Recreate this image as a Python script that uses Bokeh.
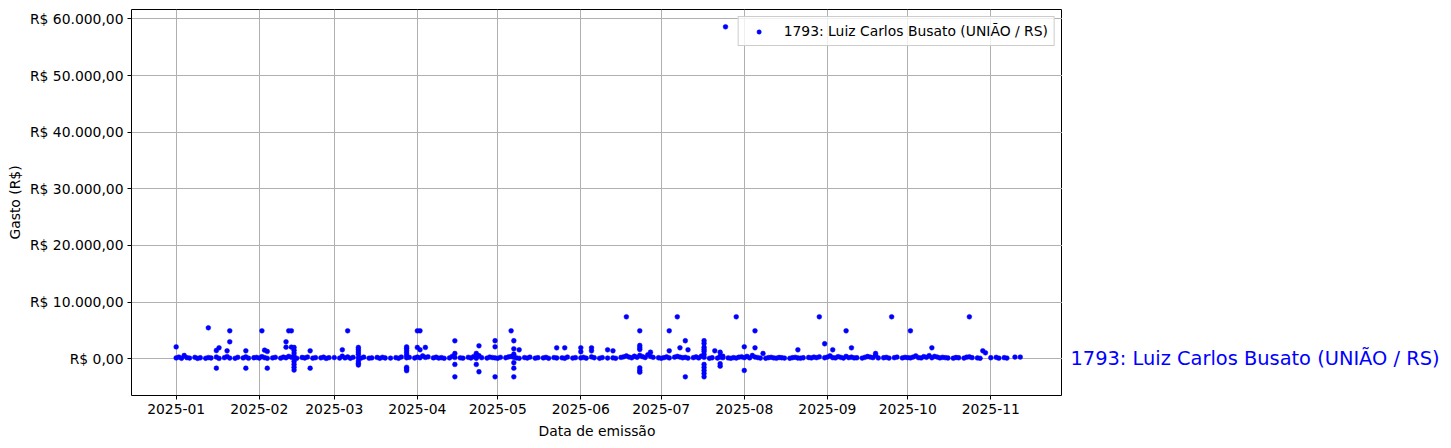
import pandas as pd
from bokeh.plotting import figure
from bokeh.layouts import row
from bokeh.models import ColumnDataSource, Range1d, FixedTicker
from bokeh.core.properties import value
from bokeh.embed import file_html
from bokeh.resources import INLINE

series_name = "1793: Luiz Carlos Busato (UNIÃO / RS)"
x_title = "Data de emissão"
y_title = "Gasto (R$)"

# dense band of small expenses (day of month, value) per month of 2025
jan_days = [1, 2, 3, 5, 6, 8, 9, 10, 12, 13, 14, 16, 17, 19, 20, 21, 23, 24, 26, 27, 28, 30, 31]
jan_vals = [150, 300, 80, 200, 120, 250, 60, 180, 90, 220, 140, 310, 70, 200, 400, 130, 90, 260, 150, 330, 100, 180, 240]
feb_days = [1, 2, 3, 4, 6, 7, 9, 10, 11, 12, 13, 14, 15, 17, 18, 19, 21, 22, 24, 25, 26, 27]
feb_vals = [120, 380, 200, 90, 150, 260, 110, 300, 180, 420, 260, 150, 90, 230, 140, 310, 110, 200, 170, 280, 60, 190]
mar_days = [1, 3, 4, 5, 6, 7, 8, 10, 11, 12, 14, 15, 17, 18, 19, 20, 22, 24, 25, 26, 28, 29, 31]
mar_vals = [210, 120, 460, 150, 320, 90, 250, 180, 130, 280, 100, 160, 230, 90, 260, 140, 120, 200, 90, 310, 180, 250, 140]
apr_days = [1, 2, 3, 4, 5, 7, 8, 9, 10, 11, 13, 14, 15, 17, 18, 20, 21, 22, 23, 24, 25, 27, 28, 29, 30]
apr_vals = [300, 180, 520, 240, 350, 160, 280, 120, 200, 90, 150, 420, 230, 170, 110, 260, 140, 380, 90, 540, 200, 120, 300, 220, 160]
may_days = [1, 2, 4, 5, 6, 7, 8, 9, 11, 12, 13, 15, 16, 18, 19, 20, 22, 23, 25, 26, 27, 29, 30]
may_vals = [90, 250, 180, 320, 400, 260, 150, 90, 220, 130, 280, 100, 190, 150, 260, 90, 210, 140, 170, 90, 300, 120, 200]
jun_days = [1, 2, 3, 5, 6, 8, 9, 11, 13, 14, 16, 17, 18, 19, 20, 21, 22, 23, 24, 25, 26, 27, 28, 30]
jun_vals = [150, 260, 100, 330, 180, 90, 210, 130, 160, 90, 240, 350, 520, 300, 180, 450, 260, 600, 380, 220, 700, 430, 250, 180]
jul_days = [1, 2, 3, 4, 6, 7, 8, 9, 10, 11, 13, 14, 15, 16, 17, 19, 20, 22, 23, 24, 26, 27, 28, 29, 30, 31]
jul_vals = [90, 200, 350, 150, 280, 420, 300, 180, 260, 120, 200, 340, 150, 480, 250, 90, 180, 120, 300, 200, 150, 90, 210, 130, 280, 350]
aug_days = [1, 2, 3, 4, 5, 6, 7, 9, 10, 11, 12, 13, 14, 15, 16, 18, 19, 20, 21, 22, 23, 25, 26, 27, 28, 29, 31]
aug_vals = [200, 420, 160, 580, 310, 220, 120, 90, 200, 260, 150, 100, 230, 180, 120, 90, 200, 260, 140, 100, 180, 230, 150, 300, 200, 350, 180]
sep_days = [1, 2, 3, 4, 5, 6, 7, 8, 9, 10, 11, 12, 14, 15, 16, 17, 18, 19, 20, 22, 23, 24, 26, 27, 29, 30]
sep_vals = [300, 520, 200, 150, 380, 250, 120, 420, 200, 300, 150, 180, 120, 250, 400, 300, 200, 600, 150, 180, 260, 120, 200, 300, 150, 260]
oct_days = [1, 2, 3, 4, 5, 6, 7, 8, 9, 10, 11, 12, 13, 14, 15, 16, 18, 19, 20, 22, 23, 24, 25, 27, 28]
oct_vals = [200, 150, 300, 500, 200, 150, 380, 250, 550, 180, 420, 300, 150, 260, 200, 140, 100, 230, 180, 120, 280, 350, 200, 150, 90]
nov_days = [1, 3, 4, 6, 7, 10, 12]
nov_vals = [180, 250, 100, 200, 120, 300, 300]

# larger / negative expenses
out_dates = [
    "2025-01-01", "2025-01-04", "2025-01-13", "2025-01-16", "2025-01-16", "2025-01-17",
    "2025-01-20", "2025-01-21", "2025-01-21", "2025-01-27", "2025-01-27",
    "2025-02-02", "2025-02-03", "2025-02-04", "2025-02-04",
    "2025-02-11", "2025-02-11", "2025-02-12", "2025-02-13", "2025-02-13",
    "2025-02-14", "2025-02-14", "2025-02-14", "2025-02-14", "2025-02-14", "2025-02-14", "2025-02-14", "2025-02-14",
    "2025-02-20", "2025-02-20",
    "2025-03-04", "2025-03-06",
    "2025-03-10", "2025-03-10", "2025-03-10", "2025-03-10", "2025-03-10", "2025-03-10", "2025-03-10",
    "2025-03-28", "2025-03-28", "2025-03-28", "2025-03-28", "2025-03-28", "2025-03-28", "2025-03-28", "2025-03-28",
    "2025-04-01", "2025-04-01", "2025-04-02", "2025-04-02", "2025-04-04",
    "2025-04-15", "2025-04-15", "2025-04-15", "2025-04-15",
    "2025-04-23", "2025-04-23", "2025-04-24", "2025-04-24",
    "2025-04-30", "2025-04-30", "2025-04-30",
    "2025-05-06",
    "2025-05-07", "2025-05-07", "2025-05-07", "2025-05-07", "2025-05-07", "2025-05-07",
    "2025-05-09", "2025-05-23", "2025-05-26",
    "2025-06-01", "2025-06-01", "2025-06-05", "2025-06-05", "2025-06-11", "2025-06-13", "2025-06-18",
    "2025-06-23", "2025-06-23", "2025-06-23", "2025-06-23", "2025-06-23", "2025-06-23", "2025-06-23",
    "2025-06-27", "2025-07-04", "2025-07-04", "2025-07-07", "2025-07-08", "2025-07-10", "2025-07-10", "2025-07-11",
    "2025-07-17", "2025-07-17", "2025-07-17", "2025-07-17", "2025-07-17", "2025-07-17",
    "2025-07-17", "2025-07-17", "2025-07-17", "2025-07-17", "2025-07-17",
    "2025-07-21", "2025-07-23", "2025-07-23", "2025-07-23", "2025-07-23", "2025-07-24",
    "2025-07-25", "2025-07-29",
    "2025-08-01", "2025-08-01", "2025-08-05", "2025-08-05", "2025-08-08", "2025-08-21",
    "2025-08-29", "2025-08-31", "2025-09-03", "2025-09-08", "2025-09-10", "2025-09-19",
    "2025-09-25", "2025-10-02", "2025-10-10", "2025-10-24", "2025-10-29", "2025-10-30",
]
out_values = [
    2100, 580, 5470, -1660, 1460, 1940,
    1410, 4940, 3000, 1410, -1660,
    4940, 1520, 1290, -1660,
    3000, 2050, 4940, 4940, 2050,
    2000, 1500, 1000, 500, -500, -1000, -1500, -2000,
    1410, -1660,
    1590, 4940,
    2000, 1600, 1200, 800, -400, -800, -1100,
    2100, 1800, 1400, 1000, 600, -1500, -1800, -2100,
    4940, 2000, 4940, 1590, 2000,
    3180, 935, -1000, -3180,
    935, -1000, 2290, -2290,
    3180, 2120, -3180,
    4940,
    3180, 1760, 810, -700, -1660, -3180,
    1590, 1940, 1940,
    1940, 1240, 1940, 1410, 1590, 1410, 7410,
    4940, 2350, 1940, 1640, -1590, -2010, -2370,
    1160, 4940, 1410, 7410, 1940, 3180, -3180, 1590,
    3180, 2700, 2050, 1640, 1290, 760,
    -1000, -1540, -2060, -2600, -3180,
    1410, 1160, 460, -880, -1300, 460,
    58600, 7410,
    2120, -2060, 4940, 1940, 935, 1590,
    7410, 2650, 1590, 4940, 1940, 935,
    7410, 4940, 1940, 7410, 1410, 1060,
]

month_labels = ["2025-01", "2025-02", "2025-03", "2025-04", "2025-05", "2025-06",
                "2025-07", "2025-08", "2025-09", "2025-10", "2025-11"]
y_ticks = [0, 10000, 20000, 30000, 40000, 50000, 60000]
y_labels = ["R$ 0,00", "R$ 10.000,00", "R$ 20.000,00", "R$ 30.000,00",
            "R$ 40.000,00", "R$ 50.000,00", "R$ 60.000,00"]

band = [(1, jan_days, jan_vals), (2, feb_days, feb_vals), (3, mar_days, mar_vals),
        (4, apr_days, apr_vals), (5, may_days, may_vals), (6, jun_days, jun_vals),
        (7, jul_days, jul_vals), (8, aug_days, aug_vals), (9, sep_days, sep_vals),
        (10, oct_days, oct_vals), (11, nov_days, nov_vals)]
xs, ys = [], []
for m, ds, vs in band:
    for d, v in zip(ds, vs):
        xs.append(pd.Timestamp(2025, m, d))
        ys.append(v)
for s, v in zip(out_dates, out_values):
    xs.append(pd.Timestamp(s))
    ys.append(v)

src = ColumnDataSource(dict(x=xs, y=ys))

x_start = pd.Timestamp("2024-12-15 08:00")
x_end = pd.Timestamp("2025-11-27 18:00")

TOP, BOTTOM = 9, 42

p = figure(frame_width=931, frame_height=386, x_axis_type="datetime",
           x_range=Range1d(x_start, x_end), y_range=Range1d(-6480, 61650),
           output_backend="svg", toolbar_location=None,
           min_border_left=131, min_border_right=0, min_border_top=TOP, min_border_bottom=BOTTOM)

p.scatter("x", "y", source=src, size=4.8, fill_color="blue", line_color="blue",
          line_width=0.5, legend_label=series_name)

FONT = "DejaVu Sans"
FS = "13.9px"

x_ticks = [pd.Timestamp(s + "-01").timestamp() * 1000 for s in month_labels]
p.xaxis.ticker = FixedTicker(ticks=x_ticks)
p.xaxis.major_label_overrides = {t: l for t, l in zip(x_ticks, month_labels)}
p.yaxis.ticker = FixedTicker(ticks=y_ticks)
p.yaxis.major_label_overrides = {t: l for t, l in zip(y_ticks, y_labels)}

for ax in (p.xaxis[0], p.yaxis[0]):
    ax.major_label_text_font = FONT
    ax.major_label_text_font_size = FS
    ax.major_label_text_color = "black"
    ax.axis_label_text_font = FONT
    ax.axis_label_text_font_size = FS
    ax.axis_label_text_font_style = "normal"
    ax.axis_label_text_color = "black"
    ax.axis_line_color = None
    ax.major_tick_out = 4
    ax.major_tick_in = 0
    ax.major_tick_line_color = "black"
    ax.minor_tick_line_color = None
    ax.major_label_standoff = 4
p.xaxis.axis_label = x_title
p.yaxis.axis_label = y_title
p.xaxis.axis_label_standoff = 6
p.yaxis.axis_label_standoff = 4

p.xgrid.grid_line_color = "#b0b0b0"
p.ygrid.grid_line_color = "#b0b0b0"
p.xgrid.grid_line_width = 1
p.ygrid.grid_line_width = 1
p.outline_line_color = "black"
p.outline_line_width = 1
p.outline_line_alpha = 1

lg = p.legend[0]
lg.location = "top_right"
lg.margin = 7
lg.padding = 6
lg.glyph_width = 28
lg.glyph_height = 11
lg.label_height = 13
lg.label_standoff = 11
lg.label_text_font = FONT
lg.label_text_font_size = FS
lg.label_text_color = "black"
lg.border_line_color = "#cccccc"
lg.border_line_alpha = 1
lg.background_fill_alpha = 0.8

# side panel carrying the series name at the y = 0 level
side = figure(frame_width=381, frame_height=386, x_range=Range1d(0, 1), y_range=p.y_range,
              output_backend="svg", toolbar_location=None,
              min_border_left=0, min_border_right=0, min_border_top=TOP, min_border_bottom=BOTTOM)
side.axis.visible = False
side.grid.visible = False
side.outline_line_color = None
side.text(x=[0], y=[0], text=[series_name], x_offset=8, text_color="blue",
          text_font=value(FONT), text_font_size="19.4px", text_baseline="middle", text_align="left")

layout = row(p, side, spacing=0)
open("out.html", "w").write(file_html(layout, INLINE))
